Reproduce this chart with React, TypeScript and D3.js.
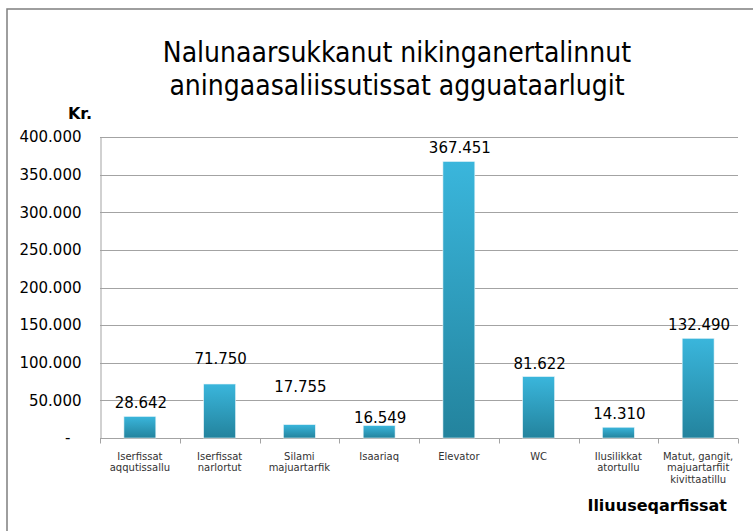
import React, { useEffect, useRef } from "react";
import * as d3 from "d3";

// chart data
const categories = [
  ["Iserfissat", "aqqutissallu"],
  ["Iserfissat", "narlortut"],
  ["Silami", "majuartarfik"],
  ["Isaariaq"],
  ["Elevator"],
  ["WC"],
  ["Ilusilikkat", "atortullu"],
  ["Matut, gangit,", "majuartarfiit", "kivittaatillu"],
];
const amounts = [28642, 71750, 17755, 16549, 367451, 81622, 14310, 132490];
const yTicks = [0, 50000, 100000, 150000, 200000, 250000, 300000, 350000, 400000];
const titleLines = ["Nalunaarsukkanut nikinganertalinnut", "aningaasaliissutissat agguataarlugit"];
const yTitle = "Kr.";
const xTitle = "Iliuuseqarfissat";

// the value labels were nudged by hand in the original, extra lift in px
const labelLift = [0, 12, 25, -5, 0, 0, 0, 0];

const W = 753;
const H = 531;
const margin = { left: 100, right: 15, top: 137, bottom: 93 };
const font = "'DejaVu Sans', Verdana, sans-serif";

function App() {
  const svgRef = useRef<SVGSVGElement>(null);

  useEffect(() => {
    const svg = d3.select(svgRef.current);
    svg.selectAll("*").remove();

    const x0 = margin.left;
    const x1 = W - margin.right;
    const y0 = H - margin.bottom;
    const y1 = margin.top;

    const fmt = d3.formatLocale({ decimal: ",", thousands: ".", grouping: [3], currency: ["", " kr."] }).format(",d");

    const xScale = d3.scaleBand<number>()
      .domain(amounts.map((_, i) => i))
      .range([x0, x1])
      .paddingInner(0.6)
      .paddingOuter(0.3);
    const yScale = d3.scaleLinear().domain([0, 400000]).range([y0, y1]);

    // gradient for bars
    const defs = svg.append("defs");
    const grad = defs.append("linearGradient")
      .attr("id", "barGrad").attr("x1", 0).attr("x2", 0).attr("y1", 0).attr("y2", 1);
    grad.append("stop").attr("offset", "0%").attr("stop-color", "#3ab6dc");
    grad.append("stop").attr("offset", "100%").attr("stop-color", "#23839d");

    // outer frame
    svg.append("rect")
      .attr("x", 7).attr("y", 9).attr("width", W + 10).attr("height", H + 10)
      .attr("fill", "none").attr("stroke", "#7f7f7f").attr("stroke-width", 1.5);

    // title
    svg.append("text")
      .attr("x", 397).attr("font-family", "'DejaVu Sans Condensed', 'DejaVu Sans', sans-serif")
      .attr("font-size", 28).attr("text-anchor", "middle").attr("fill", "#000")
      .selectAll("tspan").data(titleLines).join("tspan")
      .attr("x", 397).attr("y", (_, i) => 62 + i * 33)
      .text(d => d);

    // gridlines
    svg.append("g").selectAll("line").data(yTicks.filter(t => t > 0)).join("line")
      .attr("x1", x0).attr("x2", x1)
      .attr("y1", d => Math.round(yScale(d)) + 0.5).attr("y2", d => Math.round(yScale(d)) + 0.5)
      .attr("stroke", "#a3a3a3");

    // y axis
    const yAxis = d3.axisLeft(yScale).tickValues(yTicks).tickSize(0).tickPadding(19)
      .tickFormat(d => (+d === 0 ? "-" : fmt(+d)));
    const yg = svg.append("g").attr("transform", `translate(${x0 + 0.5},0)`).call(yAxis);
    yg.select(".domain").attr("stroke", "#a3a3a3");
    yg.selectAll("text").attr("font-family", font).attr("font-size", 15).attr("fill", "#000");
    yg.selectAll(".tick").filter(d => +d === 0).select("text").attr("x", -30);

    // x axis
    const xg = svg.append("g").attr("transform", `translate(0,${Math.round(y0) + 0.5})`);
    xg.append("line").attr("x1", x0).attr("x2", x1).attr("stroke", "#a3a3a3");
    const bounds = d3.range(amounts.length + 1).map(i => x0 + i * xScale.step());
    xg.selectAll("line.tk").data(bounds).join("line").attr("class", "tk")
      .attr("x1", d => Math.round(d) + 0.5).attr("x2", d => Math.round(d) + 0.5)
      .attr("y1", 0).attr("y2", 5).attr("stroke", "#a3a3a3");
    xg.selectAll("text.cat").data(categories).join("text").attr("class", "cat")
      .attr("font-family", font).attr("font-size", 10).attr("fill", "#333")
      .attr("text-anchor", "middle")
      .each(function (lines, i) {
        const cx = (xScale(i) as number) + xScale.bandwidth() / 2;
        d3.select(this).selectAll("tspan").data(lines).join("tspan")
          .attr("x", cx).attr("y", (_, j) => 21 + j * 11.5).text(d => d);
      });

    // bars
    svg.append("g").selectAll("rect").data(amounts).join("rect")
      .attr("x", (_, i) => xScale(i) as number)
      .attr("width", xScale.bandwidth())
      .attr("y", d => yScale(d))
      .attr("height", d => y0 - yScale(d))
      .attr("fill", "url(#barGrad)")
      .attr("stroke", "#e6f4f8").attr("stroke-width", 0.6);

    // value labels
    svg.append("g").selectAll("text").data(amounts).join("text")
      .attr("x", (_, i) => (xScale(i) as number) + xScale.bandwidth() / 2 + 1)
      .attr("y", (d, i) => yScale(d) - 8 - labelLift[i])
      .attr("text-anchor", "middle")
      .attr("font-family", font).attr("font-size", 15).attr("fill", "#000")
      .text(d => fmt(d));

    // axis titles
    svg.append("text").attr("x", 80).attr("y", 119).attr("text-anchor", "middle")
      .attr("font-family", font).attr("font-size", 16).attr("font-weight", "bold").text(yTitle);
    svg.append("text").attr("x", 727).attr("y", 511).attr("text-anchor", "end")
      .attr("font-family", font).attr("font-size", 16).attr("font-weight", "bold").text(xTitle);
  }, []);

  return (
    <svg ref={svgRef} width={W} height={H}
      style={{ position: "absolute", left: 0, top: 0, background: "#fff" }} />
  );
}

export default App;
